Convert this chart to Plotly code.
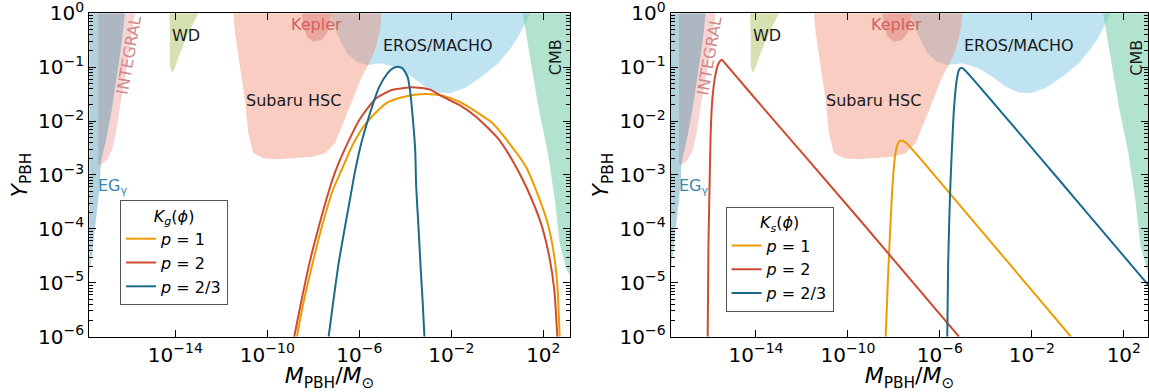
import numpy as np
import plotly.graph_objects as go

FONT = "DejaVu Sans"

# ---------------- axes (log10 units) ----------------
x_range_left = [-17.74, 3.16]
x_range_right = [-17.71, 3.07]
y_range = [-6.0, 0.0]

x_tick_exp = [-14, -10, -6, -2, 2]
x_tick_text = ["10<sup>−14</sup>", "10<sup>−10</sup>", "10<sup>−6</sup>", "10<sup>−2</sup>", "10<sup>2</sup>"]
y_tick_exp = [0, -1, -2, -3, -4, -5, -6]
y_tick_text = ["10<sup>0</sup>", "10<sup>−1</sup>", "10<sup>−2</sup>", "10<sup>−3</sup>",
               "10<sup>−4</sup>", "10<sup>−5</sup>", "10<sup>−6</sup>"]

# ---------------- constraint regions: boundary points (log10 M, log10 Y) ----------------
eros_logM = [-7.274, 1.422, 1.278, 1.13, 0.913, 0.626, 0.335, 0.043, -0.317, -0.678, -1.404,
             -2.057, -2.565, -3.143, -3.722, -4.304, -5.026, -5.678, -6.113, -6.548, -6.983, -7.274]
eros_logY = [0.0, 0.0, -0.124, -0.249, -0.434, -0.620, -0.774, -0.928, -1.052, -1.176, -1.386,
             -1.484, -1.469, -1.362, -1.176, -1.020, -0.928, -0.959, -0.898, -0.742, -0.371, 0.0]

subaru_logM = [-11.478, -11.404, -11.187, -10.97, -10.826, -10.609, -10.174, -9.591, -8.939, -8.07,
               -7.491, -7.057, -6.765, -6.478, -6.187, -5.896, -5.609, -5.317, -5.1, -5.026]
subaru_logY = [0.0, -0.365, -0.991, -1.609, -2.226, -2.597, -2.69, -2.709, -2.69, -2.661,
               -2.597, -2.412, -2.104, -1.794, -1.484, -1.176, -0.959, -0.681, -0.31, 0.0]

kepler_logM = [-8.504, -8.435, -8.287, -8.0, -7.635, -7.417, -7.274, -7.23]
kepler_logY = [0.0, -0.186, -0.434, -0.527, -0.495, -0.371, -0.186, 0.0]

wd_logM = [-14.261, -14.23, -14.23, -14.157, -14.087, -14.013, -13.796, -13.504, -13.217, -13.0]
wd_logY = [0.0, -0.371, -0.991, -1.083, -1.083, -0.991, -0.742, -0.434, -0.186, 0.0]

cmb_logM = [1.10, 1.33, 1.77, 2.20, 2.50, 2.72, 3.00, 3.30, 3.30]
cmb_logY = [0.0, -0.60, -1.70, -2.60, -3.46, -4.30, -4.75, -4.95, 0.0]

integral_logM = [-17.348, -15.752, -15.883, -16.1, -16.361, -16.578, -16.752, -16.97, -17.23, -17.348]
integral_logY = [0.0, 0.0, -0.365, -0.991, -1.609, -2.221, -2.536, -2.722, -2.814, -2.814]

eg_logM = [-17.80, -16.187, -16.33, -16.548, -16.765, -16.983, -17.13, -17.243, -17.274, -17.348,
           -17.461, -17.609, -17.739, -17.80]
eg_logY = [0.0, 0.0, -0.557, -1.176, -1.794, -2.289, -2.597, -2.783, -3.154, -3.464,
           -3.959, -4.453, -4.855, -5.0]

# ---------------- left panel curves, K_g(phi) ----------------
kg_p1_logM = [-8.712, -8.436, -8.031, -7.668, -7.15, -6.77, -6.291, -5.712, -4.842, -4.045, -3.175,
              -2.378, -1.654, -0.929, -0.204, 0.520, 1.245, 1.680, 2.187, 2.477, 2.622, 2.709]
kg_p1_logY = [-6.00, -5.381, -4.639, -4.020, -3.278, -2.907, -2.444, -2.042, -1.670, -1.547, -1.497,
              -1.528, -1.640, -1.825, -2.042, -2.413, -2.846, -3.278, -3.897, -4.515, -5.134, -6.00]

kg_p2_logM = [-8.83, -8.54, -8.17, -7.80, -7.31, -7.02, -6.51, -6.00, -5.28, -4.55, -3.683,
              -2.958, -2.378, -1.654, -0.929, 0.085, 0.810, 1.317, 1.897, 2.259, 2.477, 2.607]
kg_p2_logY = [-6.00, -5.38, -4.64, -4.02, -3.28, -2.91, -2.41, -1.98, -1.58, -1.42, -1.374,
              -1.411, -1.547, -1.701, -1.918, -2.351, -2.846, -3.278, -3.897, -4.515, -5.134, -6.00]

kg_p23_logM = [-7.335, -6.90, -6.41, -6.18, -5.95, -5.71, -5.35, -5.13, -4.77, -4.55, -4.34, -4.12,
               -3.90, -3.79, -3.68, -3.57, -3.53, -3.43, -3.33, -3.24, -3.17]
kg_p23_logY = [-6.0, -4.64, -3.46, -2.92, -2.47, -2.10, -1.61, -1.36, -1.11, -1.02, -0.99, -1.02,
               -1.18, -1.45, -1.92, -2.54, -3.20, -3.95, -4.75, -5.40, -6.0]

# ---------------- right panel curves, K_s(phi) ----------------
ks_p1_logM = [-8.36, -8.25, -8.09, -8.02, -7.95, -7.85, -7.75, -7.65, -7.45, -5.57, -0.30]
ks_p1_logY = [-6.0, -4.82, -3.40, -2.95, -2.65, -2.44, -2.37, -2.36, -2.41, -3.34, -6.0]

ks_p2_logM = [-16.10, -16.07, -16.03, -15.97, -15.90, -15.78, -15.64, -15.49, -15.30, -14.40, -9.48, -5.17]
ks_p2_logY = [-6.0, -4.39, -3.46, -2.23, -1.61, -1.18, -0.94, -0.86, -0.95, -1.40, -3.835, -6.0]

ks_p23_logM = [-5.68, -5.64, -5.56, -5.48, -5.39, -5.27, -5.16, -5.06, -4.90, -0.20, 3.06]
ks_p23_logY = [-6.0, -4.64, -3.37, -2.54, -1.79, -1.24, -1.04, -1.01, -1.06, -3.40, -5.04]

series_names = ["<i>p</i> = 1", "<i>p</i> = 2", "<i>p</i> = 2/3"]
series_colors = ["#EE9B00", "#CD4B30", "#1A6B8A"]

# ---------------- region labels: (text, log10 M, log10 Y, angle, color) ----------------
label_text = ["WD", "Kepler", "EROS/MACHO", "Subaru HSC", "CMB", "INTEGRAL", "EG<sub>γ</sub>"]
label_logM = [-13.53, -7.88, -2.56, -8.87, 2.54, -16.01, -16.71]
label_logY = [-0.41, -0.20, -0.59, -1.61, -0.82, -0.79, -3.21]
label_angle = [0, 0, 0, 0, -90, -80, 0]
label_color = ["#1a1a1a", "#d46060", "#1a1a1a", "#1a1a1a", "#1a1a1a", "#d08888", "#3b88a8"]

regions = [
    (eros_logM, eros_logY, "rgba(130,200,230,0.5)"),
    (subaru_logM, subaru_logY, "rgba(240,130,100,0.4)"),
    (kepler_logM, kepler_logY, "rgba(200,80,80,0.3)"),
    (cmb_logM, cmb_logY, "rgba(100,200,160,0.5)"),
    (wd_logM, wd_logY, "rgba(150,180,60,0.4)"),
    (integral_logM, integral_logY, "rgba(214,39,40,0.2)"),
    (eg_logM, eg_logY, "rgba(59,139,168,0.4)"),
]

fig = go.Figure()

for xa, ya in [("x", "y"), ("x2", "y2")]:
    for lm, ly, col in regions:
        fig.add_trace(go.Scatter(
            x=10 ** np.array(lm), y=10 ** np.array(ly), xaxis=xa, yaxis=ya,
            mode="lines", fill="toself", fillcolor=col, line=dict(width=0),
            hoverinfo="skip", showlegend=False))

left_curves = [(kg_p1_logM, kg_p1_logY), (kg_p2_logM, kg_p2_logY), (kg_p23_logM, kg_p23_logY)]
right_curves = [(ks_p1_logM, ks_p1_logY), (ks_p2_logM, ks_p2_logY), (ks_p23_logM, ks_p23_logY)]

for (lm, ly), name, col in zip(left_curves, series_names, series_colors):
    fig.add_trace(go.Scatter(
        x=10 ** np.array(lm), y=10 ** np.array(ly), xaxis="x", yaxis="y", mode="lines",
        line=dict(color=col, width=2, shape="spline", smoothing=0.6), name=name, legend="legend"))

for (lm, ly), name, col in zip(right_curves, series_names, series_colors):
    fig.add_trace(go.Scatter(
        x=10 ** np.array(lm), y=10 ** np.array(ly), xaxis="x2", yaxis="y2", mode="lines",
        line=dict(color=col, width=2, shape="spline", smoothing=0.5), name=name, legend="legend2"))

annotations = []
for xr, yr in [("x", "y"), ("x2", "y2")]:
    for t, lm, ly, ang, col in zip(label_text, label_logM, label_logY, label_angle, label_color):
        annotations.append(dict(text=t, x=lm, y=ly, xref=xr, yref=yr, showarrow=False,
                                textangle=ang, font=dict(family=FONT, size=16, color=col)))

y_minor_vals = [k * 10.0 ** e for e in range(-6, 0) for k in range(2, 10)]

def xaxis_cfg(domain, rng, anchor):
    return dict(type="log", domain=domain, range=rng, anchor=anchor,
                tickmode="array", tickvals=[10.0 ** e for e in x_tick_exp], ticktext=x_tick_text,
                ticks="inside", ticklen=7, tickwidth=1.2, tickcolor="black",
                showline=True, linecolor="black", linewidth=1.2, mirror="ticks",
                showgrid=False, zeroline=False, ticklabeloverflow="allow",
                tickfont=dict(family=FONT, size=20, color="black"),
                title=dict(text="<i>M</i><sub>PBH</sub>/<i>M</i><sub>⊙</sub>",
                           font=dict(family=FONT, size=22, color="black"), standoff=4),
                automargin=False)

def yaxis_cfg(anchor):
    return dict(type="log", domain=[0.1411, 0.9661], range=y_range, anchor=anchor,
                tickmode="array", tickvals=[10.0 ** e for e in y_tick_exp], ticktext=y_tick_text,
                ticks="inside", ticklen=7, tickwidth=1.2, tickcolor="black",
                minor=dict(tickmode="array", tickvals=y_minor_vals, ticks="inside", ticklen=4,
                           tickwidth=1, tickcolor="black", showgrid=False),
                showline=True, linecolor="black", linewidth=1.2, mirror="ticks",
                showgrid=False, zeroline=False, ticklabeloverflow="allow",
                tickfont=dict(family=FONT, size=20, color="black"),
                title=dict(text="<i>Y</i><sub>PBH</sub>",
                           font=dict(family=FONT, size=22, color="black"), standoff=4),
                automargin=False)

legend_common = dict(xanchor="left", yanchor="top", bgcolor="white", bordercolor="#555555",
                     borderwidth=1, font=dict(family=FONT, size=16, color="black"),
                     tracegroupgap=0)

fig.update_layout(
    width=1149, height=392,
    margin=dict(l=0, r=0, t=0, b=0),
    paper_bgcolor="white", plot_bgcolor="white",
    font=dict(family=FONT),
    xaxis=xaxis_cfg([0.0777, 0.4961], x_range_left, "y"),
    yaxis=yaxis_cfg("x"),
    xaxis2=xaxis_cfg([0.5837, 0.9995], x_range_right, "y2"),
    yaxis2=yaxis_cfg("x2"),
    legend=dict(x=0.1045, y=0.4898,
                title=dict(text="<i>K<sub>g</sub></i>(<i>ϕ</i>)", side="top center",
                           font=dict(family=FONT, size=16, color="black")),
                **legend_common),
    legend2=dict(x=0.6315, y=0.4727,
                 title=dict(text="<i>K<sub>s</sub></i>(<i>ϕ</i>)", side="top center",
                            font=dict(family=FONT, size=16, color="black")),
                 **legend_common),
    annotations=annotations,
    showlegend=True,
)

fig.write_html("out.html", config={"displayModeBar": False},
               post_script="document.body.style.margin='0px';document.body.style.overflow='hidden';")
